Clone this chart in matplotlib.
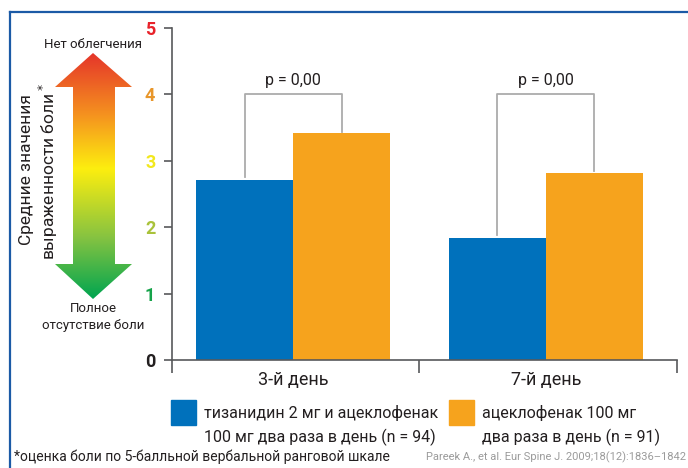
import numpy as np
import matplotlib.pyplot as plt
from matplotlib.colors import LinearSegmentedColormap
from matplotlib.patches import Polygon, Rectangle

plt.rcParams['font.family'] = ['Roboto', 'DejaVu Sans']

days = ['3-й день', '7-й день']
combo = [2.71, 1.84]       # тизанидин + ацеклофенак
aceclo = [3.42, 2.82]      # ацеклофенак
p_text = ['p = 0,00', 'p = 0,00']
bracket_y = 4.0
yticks = [0, 1, 2, 3, 4, 5]
ytick_colors = ['#231f20', '#16a34a', '#a9c23a', '#f2e81d', '#e8962a', '#e8222a']
legend_labels = [['тизанидин 2 мг и ацеклофенак', '100 мг два раза в день (n = 94)'],
                 ['ацеклофенак 100 мг', 'два раза в день (n = 91)']]
BLUE, ORANGE = '#0071bc', '#f6a31d'
INK = '#231f20'

W, H = 688, 468
fig = plt.figure(figsize=(W / 100, H / 100), dpi=100)

# pixel-coordinate overlay for the decoration
ov = fig.add_axes([0, 0, 1, 1])
ov.set_xlim(0, W)
ov.set_ylim(H, 0)
ov.axis('off')

# frame lines (top + left)
ov.plot([9.5, W], [11.5, 11.5], color='#1b5aa6', lw=1.6)
ov.plot([9.5, 9.5], [11.5, H], color='#1b5aa6', lw=1.6)

# gradient double arrow
arrow = [(93, 53), (132, 87), (115, 87), (115, 264), (132, 264), (93, 299),
         (55, 264), (73, 264), (73, 87), (55, 87)]
poly = Polygon(arrow, closed=True, facecolor='none', edgecolor='none')
ov.add_patch(poly)
cmap = LinearSegmentedColormap.from_list(
    'pain', [(0, '#e5352a'), (0.25, '#f5921f'), (0.47, '#fdee0f'),
             (0.75, '#86c341'), (1, '#00a550')])
grad = np.linspace(0, 1, 256).reshape(-1, 1)
im = ov.imshow(grad, cmap=cmap, aspect='auto', extent=[55, 132, 299, 53])
im.set_clip_path(poly)

ov.text(93, 44, 'Нет облегчения', ha='center', va='center', fontsize=9.5, color=INK)
ov.text(93, 308, 'Полное', ha='center', va='center', fontsize=9.5, color=INK)
ov.text(93, 326, 'отсутствие боли', ha='center', va='center', fontsize=9.5, color=INK)
ov.text(26, 170, 'Средние значения', rotation=90, ha='center', va='center',
        fontsize=12.5, color=INK)
ov.text(48, 172, 'выраженности боли$^*$', rotation=90, ha='center', va='center',
        fontsize=12.5, color=INK)

# legend
for (x0, col, lines) in [(171, BLUE, legend_labels[0]), (449, ORANGE, legend_labels[1])]:
    ov.add_patch(Rectangle((x0, 400), 25, 25, color=col))
    ov.text(x0 + 33, 413, lines[0], va='center', fontsize=11.5, color=INK)
    ov.text(x0 + 33, 437, lines[1], va='center', fontsize=11.5, color=INK)

ov.text(14, 457, '*оценка боли по 5-балльной вербальной ранговой шкале',
        va='center', fontsize=10, color=INK)
ov.text(686, 457, 'Pareek A., et al. Eur Spine J. 2009;18(12):1836–1842',
        va='center', ha='right', fontsize=8, color='#9b9b9b')

# main chart
ax = fig.add_axes([172 / W, (H - 360) / H, (677 - 172) / W, (360 - 28) / H])
ax.patch.set_alpha(0)
x = np.arange(len(days))
bw = 0.384
ax.bar(x - bw / 2, combo, bw, color=BLUE, zorder=2)
ax.bar(x + bw / 2, aceclo, bw, color=ORANGE, zorder=2)

for i in range(len(days)):
    xl, xr = x[i] - bw / 2, x[i] + bw / 2
    ax.plot([xl, xl, xr, xr], [combo[i] + 0.04, bracket_y, bracket_y, aceclo[i] + 0.02],
            color='#ababab', lw=1.3, zorder=1)
    ax.text(x[i], bracket_y + 0.1, p_text[i], ha='center', va='bottom',
            fontsize=11.5, color=INK)

ax.set_xlim(-0.48, 1.52)
ax.set_ylim(0, 5)
for s in ['top', 'right']:
    ax.spines[s].set_visible(False)
for s in ['left', 'bottom']:
    ax.spines[s].set_color('#58595b')
    ax.spines[s].set_linewidth(1.2)

ax.set_yticks(yticks)
ax.set_yticklabels([str(t) for t in yticks], fontsize=13, fontweight='bold')
for lab, c in zip(ax.get_yticklabels(), ytick_colors):
    lab.set_color(c)
ax.tick_params(axis='y', length=6, width=1.2, color='#58595b', pad=6)

ax.set_xticks(x)
ax.set_xticklabels(days, fontsize=13, color=INK)
ax.tick_params(axis='x', length=0, pad=8)
ax.set_xticks([-0.48, 0.5, 1.52], minor=True)
ax.tick_params(axis='x', which='minor', length=9, width=1.2, color='#58595b', direction='out')

fig.savefig('out.png', dpi=100)
